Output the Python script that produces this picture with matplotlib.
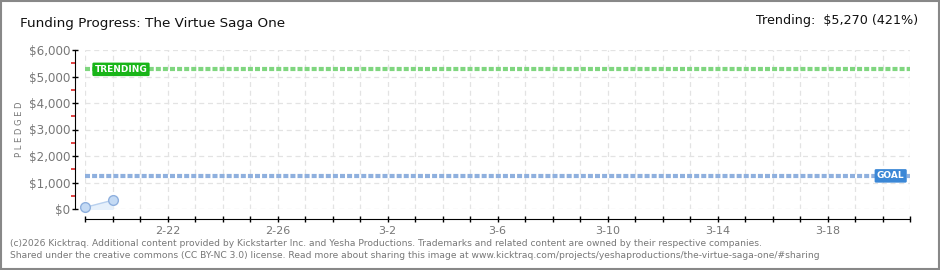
"""Kicktraq-style funding progress chart."""
import datetime as dt
import matplotlib
matplotlib.use("Agg")
import matplotlib.pyplot as plt
import matplotlib.dates as mdates
from matplotlib.ticker import FixedLocator, FuncFormatter
import matplotlib.patches as mpatches

TITLE = "Funding Progress: The Virtue Saga One"
TREND_TEXT = "Trending:  $5,270 (421%)"
FOOTER = ["(c)2026 Kicktraq. Additional content provided by Kickstarter Inc. and Yesha Productions. "
          "Trademarks and related content are owned by their respective companies.",
          "Shared under the creative commons (CC BY-NC 3.0) license. Read more about sharing this image "
          "at www.kicktraq.com/projects/yeshaproductions/the-virtue-saga-one/#sharing"]

dates = [dt.date(2026, 2, 19), dt.date(2026, 2, 20)]
pledged = [60, 330]
goal = 1250
trending = 5270
x_start = dt.date(2026, 2, 19)
x_end = dt.date(2026, 3, 21)
label_days = ["2-22", "2-26", "3-2", "3-6", "3-10", "3-14", "3-18"]

GRAY = "#777777"

fig = plt.figure(figsize=(9.4, 2.7), dpi=100)
fig.patch.set_facecolor("white")
# outer border
fig.add_artist(mpatches.Rectangle((0.001, 0.002), 0.998, 0.995, transform=fig.transFigure,
                                  fill=False, edgecolor="#888888", lw=1.5))

ax = fig.add_axes([85 / 940, 1 - 209 / 270, 825 / 940, 159 / 270])
xs = mdates.date2num(dates)
x0, x1 = mdates.date2num(x_start), mdates.date2num(x_end)
ax.set_xlim(x0, x1)
ax.set_ylim(0, 6000)

# grid
day_ticks = [x0 + i for i in range(int(x1 - x0) + 1)]
for d in day_ticks:
    ax.axvline(d, color="#e3e3e3", lw=0.9, ls=(0, (4, 3)), zorder=0)
for v in range(0, 7000, 1000):
    ax.axhline(v, color="#e3e3e3", lw=0.9, ls=(0, (4, 3)), zorder=0)

# goal and trending lines
ax.axhline(goal, color="#8fb0de", lw=3, ls=(0, (1.2, 0.5)), zorder=2)
ax.axhline(trending, color="#7fd67f", lw=3, ls=(0, (1.2, 0.5)), zorder=2)

# pledged data
ax.fill_between(xs, pledged, 0, color="#e6f0fb", zorder=3)
ax.plot(xs, pledged, color="#b8d0ee", lw=1, zorder=4)
ax.plot(xs, pledged, "o", ms=7, mfc="#c4daf4", mec="#8fb0de", mew=1, zorder=5, clip_on=False)

# labels on lines
ax.text(x0 + 0.35, trending, "TRENDING", color="white", fontsize=6.5, fontweight="bold",
        va="center", ha="left", zorder=6,
        bbox=dict(boxstyle="round,pad=0.25,rounding_size=0.15", fc="#19b519", ec="none"))
ax.text(x1 - 0.2, goal, "GOAL", color="white", fontsize=6.5, fontweight="bold",
        va="center", ha="right", zorder=6,
        bbox=dict(boxstyle="round,pad=0.25,rounding_size=0.15", fc="#3b87d6", ec="none"))

# spines
for s in ["top", "right"]:
    ax.spines[s].set_visible(False)
ax.spines["left"].set_position(("outward", 7))
ax.spines["bottom"].set_position(("outward", 7.5))
ax.spines["left"].set_bounds(0, 6000)
ax.spines["bottom"].set_bounds(x0, x1)

ax.yaxis.set_major_locator(FixedLocator(range(0, 7000, 1000)))
ax.yaxis.set_major_formatter(FuncFormatter(lambda v, p: f"${int(v):,}"))
ax.yaxis.set_minor_locator(FixedLocator(range(500, 6000, 1000)))
ax.tick_params(axis="y", which="major", length=5, width=1, color="black", direction="inout",
               labelsize=8.6, labelcolor=GRAY, pad=1)
ax.tick_params(axis="y", which="minor", length=3, width=1.2, color="#dd2222", direction="out")

ax.xaxis.set_major_locator(FixedLocator(day_ticks))
lab_map = {}
for d in day_ticks:
    dd = mdates.num2date(d)
    s = f"{dd.month}-{dd.day}"
    lab_map[d] = s if s in label_days else ""
ax.xaxis.set_major_formatter(FuncFormatter(lambda v, p: lab_map.get(v, "")))
ax.tick_params(axis="x", which="major", length=4, width=1, color="black", direction="inout",
               labelsize=8, labelcolor=GRAY, pad=3)

ax.set_ylabel("P L E D G E D", fontsize=6, color=GRAY)
ax.yaxis.set_label_coords((24 - 85) / 825, 0.5)

fig.text(20 / 940, 1 - 24 / 270, TITLE, fontsize=9.7, color="#111111", va="center", ha="left")
fig.text(918 / 940, 1 - 21 / 270, TREND_TEXT, fontsize=9.2, color="#111111", va="center", ha="right")
fig.text(10 / 940, 1 - 243 / 270, FOOTER[0], fontsize=6.6, color=GRAY, va="center", ha="left")
fig.text(10 / 940, 1 - 256 / 270, FOOTER[1], fontsize=6.6, color=GRAY, va="center", ha="left")

fig.savefig("out.png", dpi=100)
